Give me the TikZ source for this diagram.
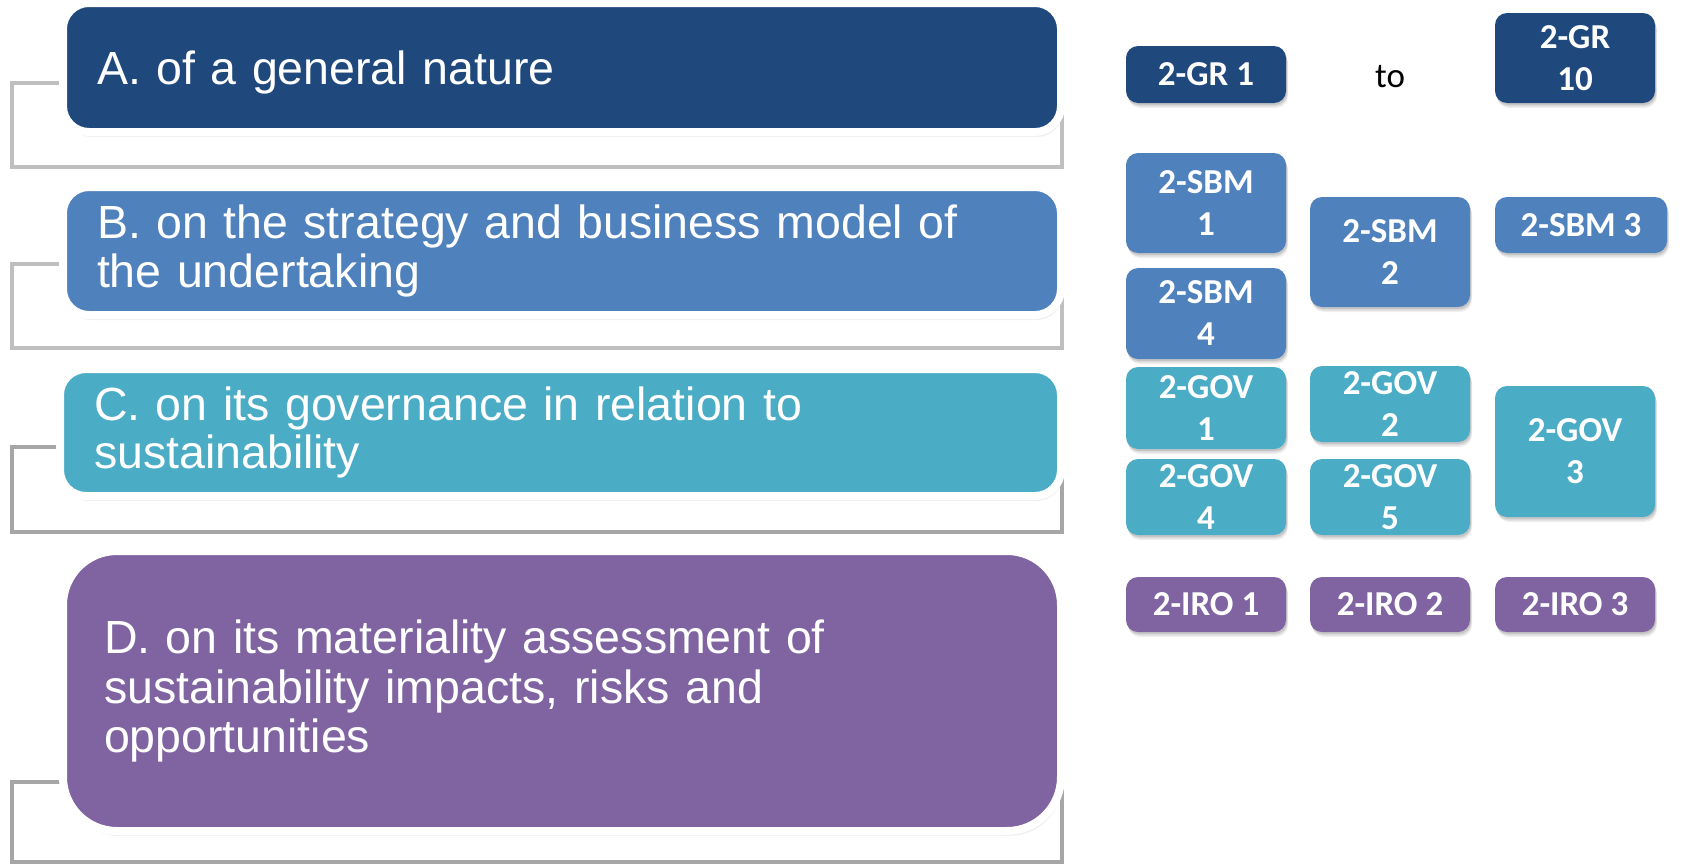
\documentclass[tikz,border=0pt]{standalone}
\usepackage{fontspec}
\setmainfont{Liberation Sans}
\newfontfamily\calibfont{Carlito}
\usetikzlibrary{shadows}

\definecolor{navy}{HTML}{1F497D}
\definecolor{steel}{HTML}{4F81BD}
\definecolor{aqua}{HTML}{4BACC6}
\definecolor{plum}{HTML}{8064A2}
\definecolor{lightrule}{HTML}{BFBFBF}
\definecolor{darkrule}{HTML}{A6A6A6}

\pgfdeclarelayer{back}
\pgfsetlayers{back,main}

\tikzset{
  soft shadow/.style={
    drop shadow={shadow xshift=1pt, shadow yshift=-2pt, opacity=0.10, fill=black},
    drop shadow={shadow xshift=1.5pt, shadow yshift=-3.5pt, opacity=0.08, fill=black},
    drop shadow={shadow xshift=2pt, shadow yshift=-5pt, opacity=0.06, fill=black}},
  topic/.style={rectangle, rounded corners=26pt, draw=white, line width=8pt,
    outer sep=0pt, text=white, align=left, anchor=north west,
    inner xsep=34pt, inner ysep=0pt, minimum width=998pt,
    text width=930pt, font=\fontsize{46.5}{48.5}\selectfont, soft shadow},
  code/.style={rectangle, rounded corners=12pt, outer sep=0pt, text=white,
    align=center, anchor=north west, inner sep=0pt, minimum width=160pt,
    font=\calibfont\bfseries\fontsize{35}{42}\selectfont, soft shadow},
  bracket/.style={line width=4.5pt, line join=miter}
}

\begin{document}
\begin{tikzpicture}[x=1pt, y=-1pt]
\useasboundingbox (0,0) rectangle (1684,865);

% topic panels
\node[topic, fill=navy, minimum height=129pt, text depth=-5pt] (A) at (63,3)
  {A. of a general nature};
\node[topic, fill=steel, minimum height=128pt] (B) at (63,187)
  {B. on the strategy and business model of\\the undertaking};
\node[topic, fill=aqua, minimum height=127pt, minimum width=1001pt,
  text width=933pt] (C) at (60,369)
  {C. on its governance in relation to\\sustainability};
\node[topic, fill=plum, minimum height=280pt, rounded corners=54pt,
  inner xsep=41pt, text width=916pt,
  font=\fontsize{46.5}{49.5}\selectfont] (D) at (63,551)
  {D. on its materiality assessment of\\sustainability impacts, risks and\\opportunities};

% side brackets behind the panels
\begin{pgfonlayer}{back}
  \fill[white] (0,0) rectangle (1684,865);
  \draw[bracket, lightrule] (A.center |- 0,83) -- (12,83) -- (12,167)
    -- (1062,167) -- (A.center -| 1062,0);
  \draw[bracket, lightrule] (B.center |- 0,264) -- (12,264) -- (12,348)
    -- (1062,348) -- (B.center -| 1062,0);
  \draw[bracket, darkrule] (C.center |- 0,447) -- (12,447) -- (12,532)
    -- (1062,532) -- (C.center -| 1062,0);
  \draw[bracket, darkrule] (D.center |- 0,782) -- (12,782) -- (12,862)
    -- (1062,862) -- (D.center -| 1062,0);
\end{pgfonlayer}

% general requirements
\node[code, fill=navy, minimum height=57pt] (gr1) at (1126,46) {2-GR 1};
\node[font=\calibfont\fontsize{35}{42}\selectfont] (to) at (1390,77) {to};
\node[code, fill=navy, minimum height=90pt] (gr10) at (1495,13) {2-GR\\10};

% strategy and business model
\node[code, fill=steel, minimum height=100pt] (sbm1) at (1126,153) {2-SBM\\1};
\node[code, fill=steel, minimum height=110pt] (sbm2) at (1310,197) {2-SBM\\2};
\node[code, fill=steel, minimum height=56pt, minimum width=172pt] (sbm3) at (1495,197) {2-SBM 3};
\node[code, fill=steel, minimum height=91pt] (sbm4) at (1126,268) {2-SBM\\4};

% governance
\node[code, fill=aqua, minimum height=82pt] (gov1) at (1126,367) {2-GOV\\1};
\node[code, fill=aqua, minimum height=76pt] (gov2) at (1310,366) {2-GOV\\2};
\node[code, fill=aqua, minimum height=131pt] (gov3) at (1495,386) {2-GOV\\3};
\node[code, fill=aqua, minimum height=76pt] (gov4) at (1126,459) {2-GOV\\4};
\node[code, fill=aqua, minimum height=76pt] (gov5) at (1310,459) {2-GOV\\5};

% impacts, risks and opportunities
\node[code, fill=plum, minimum height=55pt] (iro1) at (1126,577) {2-IRO 1};
\node[code, fill=plum, minimum height=55pt] (iro2) at (1310,577) {2-IRO 2};
\node[code, fill=plum, minimum height=55pt] (iro3) at (1495,577) {2-IRO 3};
\end{tikzpicture}
\end{document}
